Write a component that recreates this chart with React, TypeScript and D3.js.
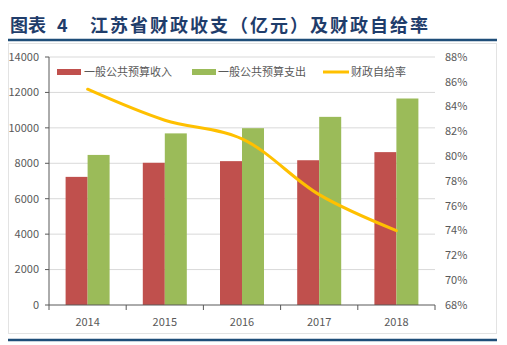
import React from 'react';
import * as d3 from 'd3';

const years = ['2014', '2015', '2016', '2017', '2018'];
const income = [7233, 8029, 8121, 8172, 8630];
const expenditure = [8472, 9688, 9982, 10621, 11657];
const ratio = [85.4, 82.9, 81.4, 76.9, 74.0];
const leftTicks = [0, 2000, 4000, 6000, 8000, 10000, 12000, 14000];
const rightTicks = [68, 70, 72, 74, 76, 78, 80, 82, 84, 86, 88];
const legendLabels = ['一般公共预算收入', '一般公共预算支出', '财政自给率'];

const W = 507, H = 345;
const L = 49, R = 435, T = 57, B = 305;
const FONT = '"Noto Sans CJK SC", "Noto Sans", sans-serif';
const RED = '#C0504D', GREEN = '#9BBB59', YELLOW = '#FFC000';

export default function App() {
  const x = d3.scaleBand<string>().domain(years).range([L, R]);
  const yL = d3.scaleLinear().domain([0, 14000]).range([B, T]);
  const yR = d3.scaleLinear().domain([68, 88]).range([B, T]);
  const bw = 22;
  const line = d3
    .line<number>()
    .x((_, i) => (x(years[i]) as number) + x.bandwidth() / 2)
    .y((d) => yR(d))
    .curve(d3.curveCatmullRom.alpha(0.5));

  return (
    <svg width={W} height={H} style={{ position: 'absolute', left: 0, top: 0, background: '#fff' }}>
      <text x={10} y={32} fontFamily={FONT} fontWeight="bold" fontSize={18} fill="#1F3D6B">
        图表
      </text>
      <text x={57} y={32} fontFamily={FONT} fontWeight="bold" fontSize={18} fill="#1F3D6B">
        4
      </text>
      <text x={90} y={32} fontFamily={FONT} fontWeight="bold" fontSize={18} fill="#1F3D6B" textLength={338} lengthAdjust="spacing">
        江苏省财政收支（亿元）及财政自给率
      </text>
      <line x1={8} x2={497} y1={40} y2={40} stroke="#1F4E79" strokeWidth={2.5} />
      <rect x={8.5} y={43.5} width={488} height={290} fill="none" stroke="#E3E3E3" />
      <line x1={8} x2={497} y1={340} y2={340} stroke="#1F4E79" strokeWidth={2.5} />

      {leftTicks.map((t) => (
        <g key={'g' + t}>
          {t > 0 && <line x1={L} x2={R} y1={yL(t)} y2={yL(t)} stroke="#D9D9D9" strokeWidth={1} />}
          <line x1={L - 4} x2={L} y1={yL(t)} y2={yL(t)} stroke="#595959" />
          <text x={39} y={yL(t)} dy="0.35em" textAnchor="end" fontFamily={FONT} fontSize={11} fill="#595959">
            {t}
          </text>
        </g>
      ))}
      {rightTicks.map((t) => (
        <text key={'r' + t} x={445} y={yR(t)} dy="0.35em" fontFamily={FONT} fontSize={11} fill="#595959">
          {t}%
        </text>
      ))}

      {years.map((yr, i) => {
        const cx = (x(yr) as number) + x.bandwidth() / 2;
        return (
          <g key={yr}>
            <rect x={cx - bw} y={yL(income[i])} width={bw} height={B - yL(income[i])} fill={RED} />
            <rect x={cx} y={yL(expenditure[i])} width={bw} height={B - yL(expenditure[i])} fill={GREEN} />
            <text x={cx} y={322} dy="0.35em" textAnchor="middle" fontFamily={FONT} fontSize={11} fill="#595959">
              {yr}
            </text>
          </g>
        );
      })}

      <line x1={L} x2={L} y1={T} y2={B} stroke="#595959" />
      <line x1={L} x2={R} y1={B} y2={B} stroke="#595959" />
      {[...years.map((y) => x(y) as number), R].map((p, i) => (
        <line key={'xt' + i} x1={p} x2={p} y1={B} y2={B + 5} stroke="#595959" />
      ))}

      <path d={line(ratio) || ''} fill="none" stroke={YELLOW} strokeWidth={3} strokeLinecap="round" />

      <rect x={57} y={69} width={24} height={6} fill={RED} />
      <text x={84} y={72} dy="0.35em" fontFamily={FONT} fontSize={11} fill="#595959">{legendLabels[0]}</text>
      <rect x={192} y={69} width={24} height={6} fill={GREEN} />
      <text x={218} y={72} dy="0.35em" fontFamily={FONT} fontSize={11} fill="#595959">{legendLabels[1]}</text>
      <line x1={323} x2={349} y1={72} y2={72} stroke={YELLOW} strokeWidth={3} />
      <text x={351} y={72} dy="0.35em" fontFamily={FONT} fontSize={11} fill="#595959">{legendLabels[2]}</text>
    </svg>
  );
}
